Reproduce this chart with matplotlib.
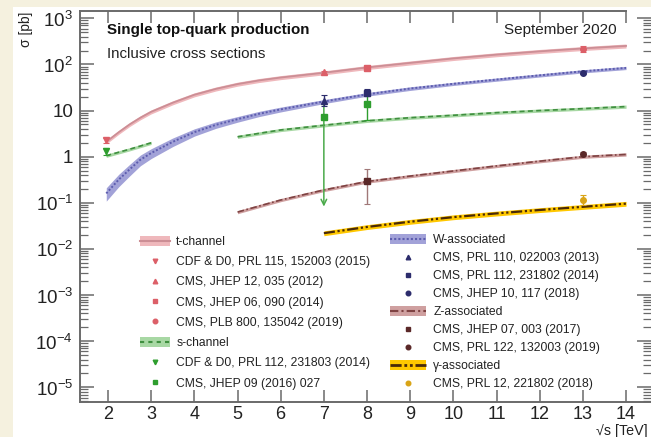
import numpy as np
import matplotlib
matplotlib.use("Agg")
import matplotlib.pyplot as plt
from matplotlib.patches import Patch, Rectangle
from matplotlib.lines import Line2D
from matplotlib.ticker import FixedLocator, FixedFormatter, LogLocator, NullFormatter

plt.rcParams['font.family'] = ['Liberation Sans', 'DejaVu Sans']
plt.rcParams['mathtext.fontset'] = 'custom'
plt.rcParams['mathtext.rm'] = 'Liberation Sans'

# theory curves
t_x = [1.96, 2.25, 2.5, 2.75, 3.0, 3.5, 4, 4.5, 5, 5.5, 6, 7, 8, 9, 10, 11, 12, 13, 14]
t_y = [2.1, 3.4, 5.0, 7.0, 9.4, 14.8, 22, 29.5, 37.5, 45, 52, 66, 86, 108, 135, 163, 192, 222, 252]

tw_x = [1.96, 2.25, 2.5, 2.75, 3.0, 3.5, 4, 4.5, 5, 5.5, 6, 7, 8, 9, 10, 11, 12, 13, 14]
tw_y = [0.16, 0.32, 0.53, 0.86, 1.2, 2.1, 3.4, 4.9, 6.5, 8.5, 10.6, 15.7, 22.5, 30, 38, 47, 58,
        71, 84]
tw_rel = [0.32, 0.30, 0.28, 0.26, 0.24, 0.21, 0.18, 0.16, 0.14, 0.13, 0.12, 0.10, 0.09, 0.09,
          0.08, 0.08, 0.08, 0.08, 0.08]

s1_x = [1.96, 2.5, 3.0]
s1_y = [1.05, 1.45, 2.0]
s2_x = [5, 6, 7, 8, 9, 10, 11, 12, 13, 14]
s2_y = [2.7, 3.8, 4.8, 6.0, 7.0, 7.9, 9.0, 10.0, 11.0, 12.2]

z_x = [5, 6, 7, 8, 9, 10, 11, 12, 13, 14]
z_y = [0.063, 0.115, 0.19, 0.29, 0.38, 0.49, 0.63, 0.80, 1.0, 1.12]

g_x = [7, 8, 9, 10, 11, 12, 13, 14]
g_y = [0.022, 0.030, 0.039, 0.049, 0.059, 0.070, 0.082, 0.096]

# measurements: x, value, lower bound, upper bound
t_meas_x = [1.96, 7, 8, 13]
t_meas_y = [2.25, 67, 85, 220]
t_meas_lo = [1.95, 61, 79, 185]
t_meas_hi = [2.55, 73, 91, 250]
t_meas_mk = ['v', '^', 's', 'o']
t_labels = ["CDF & D0, PRL 115, 152003 (2015)", "CMS, JHEP 12, 035 (2012)",
            "CMS, JHEP 06, 090 (2014)", "CMS, PLB 800, 135042 (2019)"]

s_meas_x = [1.96, 7, 8]
s_meas_y = [1.3, 7.4, 14]
s_meas_lo = [1.1, 0.083, 6.2]
s_meas_hi = [1.55, 16, 22]
s_meas_mk = ['v', 's', 's']
s_labels = ["CDF & D0, PRL 112, 231803 (2014)", "CMS, JHEP 09 (2016) 027"]

w_meas_x = [7, 8, 13]
w_meas_y = [16, 24.5, 66]
w_meas_lo = [12.4, 20.5, 61]
w_meas_hi = [22, 29.5, 71]
w_meas_mk = ['^', 's', 'o']
w_labels = ["CMS, PRL 110, 022003 (2013)", "CMS, PRL 112, 231802 (2014)",
            "CMS, JHEP 10, 117 (2018)"]

z_meas_x = [8, 13]
z_meas_y = [0.30, 1.15]
z_meas_lo = [0.095, 1.05]
z_meas_hi = [0.55, 1.25]
z_meas_mk = ['s', 'o']
z_labels = ["CMS, JHEP 07, 003 (2017)", "CMS, PRL 122, 132003 (2019)"]

g_meas_x = [13]
g_meas_y = [0.117]
g_meas_lo = [0.090]
g_meas_hi = [0.149]
g_labels = ["CMS, PRL 12, 221802 (2018)"]

ytick_vals = [1e-5, 1e-4, 1e-3, 1e-2, 1e-1, 1, 10, 1e2, 1e3]
ytick_text = ["10$^{-5}$", "10$^{-4}$", "10$^{-3}$", "10$^{-2}$", "10$^{-1}$", "1", "10",
              "10$^{2}$", "10$^{3}$"]
xtick_vals = list(range(2, 15))

# colours
t_band, t_line, t_pt = '#efb8bc', '#cc8e95', '#dc5f68'
s_band, s_line, s_pt = '#a8d8a4', '#3f8f3f', '#2e9e2e'
w_band, w_line, w_pt = '#a2a2d8', '#5c5cae', '#2c2c6c'
z_band, z_line, z_pt = '#cfa0a0', '#7e4242', '#5a2828'
g_band, g_line, g_pt = '#ffc800', '#4a2a08', '#d9a416'

W, H = 651, 437
fig = plt.figure(figsize=(6.51, 4.37), dpi=100, facecolor='#f5f1df')
fig.patches.append(Rectangle((13 / W, 0), 1, 1 - 7 / H, transform=fig.transFigure,
                             facecolor='white', edgecolor='none', zorder=-10))

ax = fig.add_axes([80 / W, 1 - 402 / H, (651 - 80) / W, (402 - 11) / H])
ax.set_facecolor('white')
ax.set_yscale('log')
ax.set_xlim(1.3514, 14.578)
ax.set_ylim(10 ** -5.317, 10 ** 3.158)


def band(x, y, rel, bc, lc, ls, lw=1.2):
    y = np.asarray(y, dtype=float)
    rel = np.asarray(rel, dtype=float)
    ax.fill_between(x, y * (1 - rel), y * (1 + rel), color=bc, lw=0, zorder=2)
    ax.plot(x, y, color=lc, ls=ls, lw=lw, zorder=3)


band(t_x, t_y, 0.10, t_band, t_line, '-', 1.3)
band(tw_x, tw_y, tw_rel, w_band, w_line, (0, (1, 1)), 1.4)
band(s1_x, s1_y, 0.08, s_band, s_line, (0, (3, 2)), 1.2)
band(s2_x, s2_y, 0.08, s_band, s_line, (0, (3, 2)), 1.2)
band(z_x, z_y, 0.08, z_band, z_line, (0, (4, 1.5, 1, 1.5)), 1.2)
band(g_x, g_y, 0.12, g_band, g_line, (0, (5, 1.2, 1, 1.2, 1, 1.2)), 1.6)


def points(xs, ys, lo, hi, mks, col, ecol, skip=()):
    for i, (x, y, l, h, m) in enumerate(zip(xs, ys, lo, hi, mks)):
        if i not in skip:
            ax.errorbar([x], [y], yerr=[[y - l], [h - y]], fmt='none', ecolor=ecol,
                        elinewidth=1, capsize=2, capthick=0.8, zorder=4)
        ax.plot([x], [y], ls='none', marker=m, color=col, markersize=4, zorder=5)


points(t_meas_x, t_meas_y, t_meas_lo, t_meas_hi, t_meas_mk, t_pt, t_pt)
points(s_meas_x, s_meas_y, s_meas_lo, s_meas_hi, s_meas_mk, s_pt, s_pt, skip=(1,))
ax.annotate('', xy=(s_meas_x[1], s_meas_lo[1]), xytext=(s_meas_x[1], s_meas_hi[1]),
            arrowprops=dict(arrowstyle='->', color='#4aaa4a', lw=1.1,
                            shrinkA=0, shrinkB=0), zorder=4)
points(w_meas_x, w_meas_y, w_meas_lo, w_meas_hi, w_meas_mk, w_pt, w_pt)
points(z_meas_x, z_meas_y, z_meas_lo, z_meas_hi, z_meas_mk, z_pt, '#a07878')
points(g_meas_x, g_meas_y, g_meas_lo, g_meas_hi, ['o'], g_pt, g_pt)

# axes styling
sc = '#6a6a6a'
for side in ['left', 'bottom', 'top']:
    ax.spines[side].set_color(sc)
    ax.spines[side].set_linewidth(1.4)
ax.spines['right'].set_visible(False)
ax.spines['top'].set_bounds(1.3514, 14)

ax.xaxis.set_major_locator(FixedLocator(xtick_vals))
ax.xaxis.set_major_formatter(FixedFormatter([str(v) for v in xtick_vals]))
ax.yaxis.set_major_locator(FixedLocator(ytick_vals))
ax.yaxis.set_major_formatter(FixedFormatter(ytick_text))
ax.yaxis.set_minor_locator(LogLocator(base=10, subs=np.arange(2, 10), numticks=20))
ax.yaxis.set_minor_formatter(NullFormatter())

ax.tick_params(axis='x', which='major', direction='in', top=True, bottom=True,
               length=8.5, width=1.1, color=sc, labelsize=13, pad=3, labelcolor='#222222')
ax.tick_params(axis='y', which='major', direction='in', left=True, right=True,
               length=10, width=1.1, color=sc, labelsize=13.5, pad=5, labelcolor='#222222')
ax.tick_params(axis='y', which='minor', direction='in', left=True, right=True,
               length=5.5, width=0.9, color=sc)

fig.text(26 / W, 1 - 12 / H, "σ [pb]", rotation=90, ha='center', va='top',
         fontsize=10, color='#222222')
fig.text(596 / W, 1 - 424 / H, "√s [TeV]", ha='left', va='top', fontsize=10.3,
         color='#222222')

ax.text(107 / W, 1 - 30 / H, "Single top-quark production", transform=fig.transFigure,
        fontsize=10.9, fontweight='bold', va='center', ha='left', color='#111111')
ax.text(107 / W, 1 - 54 / H, "Inclusive cross sections", transform=fig.transFigure,
        fontsize=10.9, va='center', ha='left', color='#222222')
ax.text(617 / W, 1 - 30 / H, "September 2020", transform=fig.transFigure,
        fontsize=11, va='center', ha='right', color='#222222')

# legends
def mk(m, c):
    return Line2D([], [], ls='none', marker=m, color=c, markersize=3.3)


left_h = [(Patch(facecolor=t_band, edgecolor='none'), Line2D([], [], color=t_line, lw=1.5))]
left_h += [mk(m, t_pt) for m in t_meas_mk]
left_h += [(Patch(facecolor=s_band, edgecolor='none'),
            Line2D([], [], color=s_line, lw=1.5, ls=(0, (2, 2))))]
left_h += [mk('v', s_pt), mk('s', s_pt)]
left_l = ["t-channel"] + t_labels + ["s-channel"] + s_labels

right_h = [(Patch(facecolor=w_band, edgecolor='none'),
            Line2D([], [], color=w_line, lw=1.5, ls=(0, (1, 1))))]
right_h += [mk(m, w_pt) for m in w_meas_mk]
right_h += [(Patch(facecolor=z_band, edgecolor='none'),
             Line2D([], [], color=z_line, lw=1.5, ls=(0, (4, 1.5, 1, 1.5))))]
right_h += [mk(m, z_pt) for m in z_meas_mk]
right_h += [(Patch(facecolor=g_band, edgecolor='none'),
             Line2D([], [], color=g_line, lw=2, ls=(0, (4, 1, 1, 1, 1, 1))))]
right_h += [mk('o', g_pt)]
right_l = ["W-associated"] + w_labels + ["Z-associated"] + z_labels + ["γ-associated"] + g_labels

fs = 8.7
leg1 = ax.legend(left_h, left_l, loc='upper left', bbox_to_anchor=(140 / W, 1 - 236 / H),
                 bbox_transform=fig.transFigure, frameon=False, fontsize=fs, borderpad=0,
                 borderaxespad=0, handlelength=2.5, handleheight=0.85, handletextpad=0.5,
                 labelspacing=0.68, labelcolor='#222222')
ax.add_artist(leg1)
ax.legend(right_h, right_l, loc='upper left', bbox_to_anchor=(390 / W, 1 - 234 / H),
          bbox_transform=fig.transFigure, frameon=False, fontsize=fs, borderpad=0,
          borderaxespad=0, handlelength=3.0, handleheight=0.85, handletextpad=0.58,
          labelspacing=0.5, labelcolor='#222222')

fig.savefig("out.png", dpi=100, facecolor=fig.get_facecolor())
